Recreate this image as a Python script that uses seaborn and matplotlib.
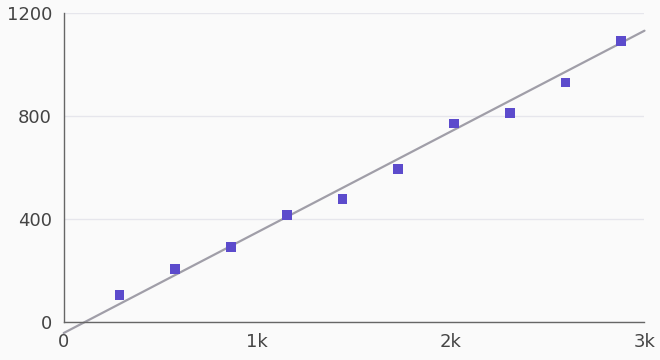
import numpy as np
import pandas as pd
import matplotlib
matplotlib.use("Agg")
import matplotlib.pyplot as plt
from matplotlib.ticker import FuncFormatter
import seaborn as sns

# dane
x_vals = [288, 576, 864, 1152, 1440, 1728, 2016, 2304, 2592, 2880]
y_vals = [104, 205, 291, 416, 478, 594, 772, 814, 932, 1094]
trend_x = [0, 3000]
trend_y = [-43, 1133]

x_ticks = [0, 1000, 2000, 3000]
y_ticks = [0, 400, 800, 1200]

df = pd.DataFrame({"x": x_vals, "y": y_vals})
df_trend = pd.DataFrame({"x": trend_x, "y": trend_y})

sns.set_style("white")
plt.rcParams["font.family"] = ["DejaVu Sans"]

bg = "#fafafa"
fig = plt.figure(figsize=(6.6, 3.6), dpi=100, facecolor=bg)
ax = fig.add_axes([0.0965, 0.1056, 0.880, 0.857])
ax.set_facecolor(bg)

ax.set_xlim(0, 3000)
ax.set_ylim(0, 1200)

# linia trendu (wychodzi poza os)
sns.lineplot(data=df_trend, x="x", y="y", ax=ax, color="#a09ea8",
             linewidth=1.6, clip_on=False, zorder=2)
# punkty
sns.scatterplot(data=df, x="x", y="y", ax=ax, marker="s", s=48,
                color="#5c4bcc", edgecolor="none", linewidth=0, zorder=3,
                clip_on=False)

ax.set_xticks(x_ticks)
ax.set_yticks(y_ticks)
ax.xaxis.set_major_formatter(FuncFormatter(lambda v, p: "0" if v == 0 else f"{int(v/1000)}k"))
ax.tick_params(axis="x", length=3, width=1, color="#666666", pad=5,
               labelsize=13, labelcolor="#444444")
ax.tick_params(axis="y", length=0, pad=8.5, labelsize=13, labelcolor="#444444")

ax.grid(axis="y", color="#e6e6ec", linewidth=1)
ax.grid(axis="x", visible=False)
ax.set_axisbelow(True)

for s in ["top", "right"]:
    ax.spines[s].set_visible(False)
for s in ["left", "bottom"]:
    ax.spines[s].set_color("#666666")
    ax.spines[s].set_linewidth(1)

ax.set_xlabel("")
ax.set_ylabel("")

plt.savefig("out.png", dpi=100, facecolor=bg)
plt.close()
